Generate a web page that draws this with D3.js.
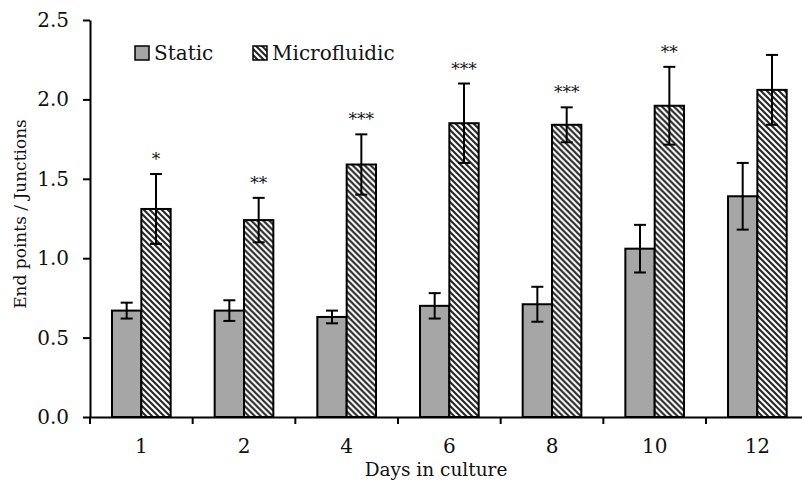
<!DOCTYPE html>
<html>
<head>
<meta charset="utf-8">
<script src="https://cdn.jsdelivr.net/npm/d3@7"></script>
<style>
  html, body { margin: 0; padding: 0; background: #fff; }
  svg { display: block; }
  text { font-family: "DejaVu Serif", "Liberation Serif", serif; fill: #111; }
</style>
</head>
<body>
<svg id="chart" width="802" height="489"></svg>
<script>
// Days in culture (categories)
const days = ["1", "2", "4", "6", "8", "10", "12"];
// End points / junctions ratio, static culture
const staticMean = [0.67, 0.67, 0.63, 0.70, 0.71, 1.06, 1.39];
const staticErr  = [0.05, 0.065, 0.04, 0.08, 0.11, 0.15, 0.21];
// End points / junctions ratio, microfluidic culture
const microMean  = [1.31, 1.24, 1.59, 1.85, 1.84, 1.96, 2.06];
const microErr   = [0.22, 0.14, 0.19, 0.25, 0.11, 0.245, 0.22];
// Significance markers above the microfluidic bars
const significance = ["*", "**", "***", "***", "***", "**", ""];
const yTicks = [0, 0.5, 1.0, 1.5, 2.0, 2.5];
const seriesNames = ["Static", "Microfluidic"];

const svg = d3.select("#chart");

const margin = { left: 90, top: 20, bottom: 417 };
const x0 = d3.scaleBand().domain(days).range([margin.left, margin.left + 7 * 102.67]).padding(0);
const x1 = d3.scaleBand().domain(seriesNames).range([0, x0.bandwidth()]).paddingInner(0).paddingOuter(0.75);
const y = d3.scaleLinear().domain([0, 2.5]).range([margin.bottom, margin.top]);

// diagonal hatch for the microfluidic series
const defs = svg.append("defs");
const pat = defs.append("pattern")
  .attr("id", "hatch")
  .attr("patternUnits", "userSpaceOnUse")
  .attr("width", 6).attr("height", 6);
pat.append("rect").attr("width", 6).attr("height", 6).attr("fill", "#fff");
pat.append("path")
  .attr("d", "M0,0 L6,6 M-3,3 L3,9 M3,-3 L9,3")
  .attr("stroke", "#2a2a2a").attr("stroke-width", 2.2);

const rows = days.map((d, i) => ({
  day: d,
  values: [
    { key: "Static", v: staticMean[i], e: staticErr[i] },
    { key: "Microfluidic", v: microMean[i], e: microErr[i] }
  ],
  sig: significance[i]
}));

const fillFor = k => k === "Static" ? "#a6a6a6" : "url(#hatch)";

const groups = svg.append("g").selectAll("g")
  .data(rows).join("g")
  .attr("transform", d => `translate(${x0(d.day)},0)`);

groups.selectAll("rect")
  .data(d => d.values).join("rect")
  .attr("x", d => x1(d.key))
  .attr("y", d => y(d.v))
  .attr("width", x1.bandwidth())
  .attr("height", d => y(0) - y(d.v))
  .attr("fill", d => fillFor(d.key))
  .attr("stroke", "#000")
  .attr("stroke-width", 2);

// error bars
const capHalf = 6;
groups.selectAll("g.err")
  .data(d => d.values).join("g")
  .attr("class", "err")
  .each(function (d) {
    const g = d3.select(this);
    const cx = x1(d.key) + x1.bandwidth() / 2;
    const top = y(d.v + d.e), bot = y(d.v - d.e);
    g.append("line").attr("x1", cx).attr("x2", cx).attr("y1", top).attr("y2", bot);
    g.append("line").attr("x1", cx - capHalf).attr("x2", cx + capHalf).attr("y1", top).attr("y2", top);
    g.append("line").attr("x1", cx - capHalf).attr("x2", cx + capHalf).attr("y1", bot).attr("y2", bot);
  })
  .selectAll("line")
  .attr("stroke", "#000").attr("stroke-width", 2);

// significance stars
groups.append("text")
  .attr("x", x1("Microfluidic") + x1.bandwidth() / 2)
  .attr("y", (d, i) => y(microMean[i] + microErr[i]) - 9)
  .attr("text-anchor", "middle")
  .attr("font-size", 17)
  .attr("fill", "#333")
  .text(d => d.sig);

// axes
const yAxis = svg.append("g")
  .attr("transform", `translate(${margin.left},0)`)
  .call(d3.axisLeft(y).tickValues(yTicks).tickFormat(d3.format(".1f")).tickSize(7).tickSizeOuter(0).tickPadding(14));
yAxis.select(".domain").attr("stroke", "#000").attr("stroke-width", 2);
yAxis.selectAll(".tick line").attr("stroke", "#000").attr("stroke-width", 2);
yAxis.selectAll(".tick text").attr("font-size", 20).attr("font-family", "DejaVu Serif").attr("fill", "#111");

const xAxis = svg.append("g")
  .attr("transform", `translate(0,${margin.bottom})`)
  .call(d3.axisBottom(x0).tickSize(0).tickPadding(22));
xAxis.select(".domain").attr("stroke", "#000").attr("stroke-width", 2);
xAxis.selectAll(".tick text").attr("font-size", 20).attr("font-family", "DejaVu Serif").attr("fill", "#111");
// category boundary ticks
xAxis.selectAll("line.bound")
  .data(days).join("line")
  .attr("class", "bound")
  .attr("x1", d => x0(d)).attr("x2", d => x0(d))
  .attr("y1", 0).attr("y2", 7)
  .attr("stroke", "#000").attr("stroke-width", 2);

// axis titles
svg.append("text")
  .attr("x", 436).attr("y", 476)
  .attr("text-anchor", "middle")
  .attr("font-size", 18.5)
  .text("Days in culture");

svg.append("text")
  .attr("transform", "translate(26,214) rotate(-90)")
  .attr("text-anchor", "middle")
  .attr("font-size", 17)
  .text("End points / Junctions");

// legend
const legend = svg.append("g");
const legendX = [135, 253];
seriesNames.forEach((name, i) => {
  legend.append("rect")
    .attr("x", legendX[i]).attr("y", 46)
    .attr("width", 14).attr("height", 14)
    .attr("fill", fillFor(name))
    .attr("stroke", "#000").attr("stroke-width", 1.5);
  legend.append("text")
    .attr("x", legendX[i] + 19).attr("y", 60)
    .attr("font-size", 20)
    .text(name);
});
</script>
</body>
</html>
